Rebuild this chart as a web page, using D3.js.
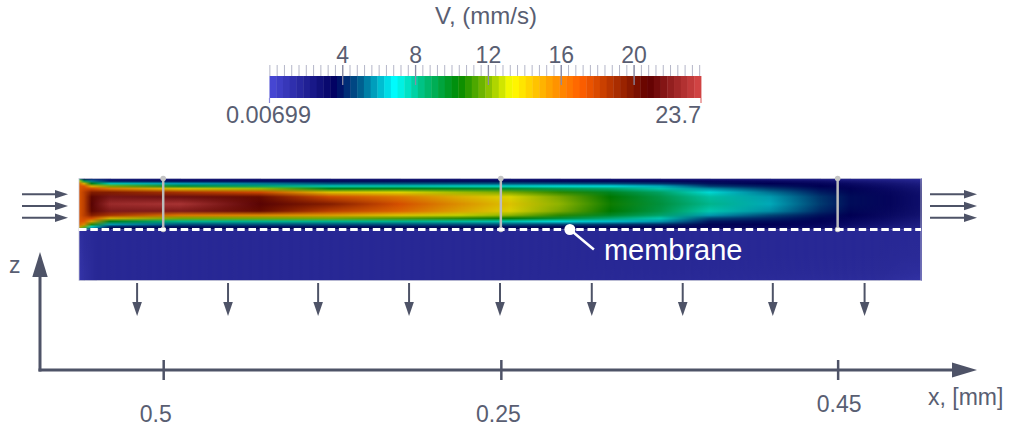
<!DOCTYPE html>
<html>
<head>
<meta charset="utf-8">
<script src="https://cdn.jsdelivr.net/npm/d3@7"></script>
<style>
body { margin: 0; background: #fff; }
text { font-family: "Liberation Sans", Arial, sans-serif; }
</style>
</head>
<body>
<svg id="chart" width="1010" height="429"></svg>
<script>

// colour map (value -> colour)
var cmapValues = [0, 3.6, 5.0, 6.9, 8.4, 10.4, 11.8, 13.3, 15.6, 17.1, 20.8, 23.7];
var cmapColors = ["#4a4ad8", "#000060", "#006090", "#00ffff", "#00c080", "#008a00",
                  "#78b800", "#ffff00", "#ff9800", "#ff6000", "#600000", "#d84848"];
var vMin = 0.00699, vMax = 23.7;
var cbMajorTicks = [4, 8, 12, 16, 20];
var cbTitle = "V, (mm/s)";

// upper channel (feed side): stations along channel (0 = inlet, 1 = outlet),
// levels across it (0 = top wall, 1 = membrane), velocity in mm/s
var upperStations = [0, 0.006, 0.015, 0.037, 0.12, 0.215, 0.298, 0.381, 0.452, 0.512,
                     0.571, 0.631, 0.69, 0.749, 0.821, 0.88, 0.916, 0.963, 1];
var upperLevels = [0, 0.05, 0.1, 0.15, 0.2, 0.27, 0.36, 0.5, 0.64, 0.72, 0.78, 0.84, 0.9, 0.95, 1];
var upperField = [
    [6, 13, 16.5, 17, 17, 17, 17, 17, 17, 17, 17, 17, 16.5, 15, 10],
    [3.5, 9, 14.5, 17, 17.5, 18, 18, 18, 18, 18, 17.5, 17, 15.5, 12, 6],
    [2.5, 5.5, 10, 14.5, 17.5, 19.5, 20.5, 21, 20.5, 19.5, 17.5, 15, 11, 7, 3.5],
    [1.8, 4, 7.5, 12, 16, 19.5, 21.8, 22.8, 22, 18.5, 14.5, 10, 6, 4, 3],
    [1.8, 3.7, 6, 9.5, 14, 18.5, 21.5, 23.2, 22, 16, 12, 8, 5, 3.8, 3],
    [1.8, 3.7, 5.5, 8.5, 12.5, 17.5, 20.3, 21, 20.3, 15.5, 12, 8, 5, 3.8, 3],
    [1.8, 3.7, 5, 7.5, 10, 14, 17.5, 19.5, 18, 15, 12, 8, 5, 3.8, 3],
    [1.8, 3.7, 5, 7.5, 10, 13.5, 16, 17.3, 16.5, 14, 11.5, 8, 5, 3.8, 3],
    [1.8, 3.7, 5, 7.3, 9.8, 12.5, 14.5, 15.3, 14.8, 13, 11, 7.8, 5, 3.8, 3],
    [1.8, 3.7, 5, 7.2, 9.5, 12, 13.5, 14, 13.6, 12.3, 10.5, 7.5, 5, 3.8, 3],
    [1.8, 3.6, 4.9, 7, 9, 11, 12, 12.3, 12, 11, 9.5, 7, 4.8, 3.7, 3],
    [1.8, 3.6, 4.8, 6.8, 8.5, 9.8, 10.4, 10.6, 10.4, 9.7, 8.4, 6.5, 4.6, 3.7, 3],
    [1.8, 3.5, 4.5, 6.2, 7.6, 8.6, 9.1, 9.3, 9.1, 8.5, 7.5, 6, 4.4, 3.6, 3],
    [1.6, 3.3, 3.9, 4.6, 5.8, 7, 7.7, 8, 7.5, 6, 4.8, 4, 3.7, 3.3, 2.8],
    [1.5, 3, 3.6, 4, 4.6, 5.4, 6, 6.2, 5.8, 4.8, 4.2, 3.8, 3.6, 3.3, 2.6],
    [1.4, 2.7, 3.3, 3.6, 3.8, 4.1, 4.5, 4.6, 4.3, 3.9, 3.7, 3.5, 3.3, 3, 2.4],
    [1.3, 2.4, 3, 3.3, 3.5, 3.7, 3.8, 3.8, 3.7, 3.6, 3.4, 3.2, 3, 2.7, 2.2],
    [1.2, 2, 2.5, 2.8, 3, 3.2, 3.3, 3.3, 3.2, 3.1, 2.9, 2.7, 2.5, 2.2, 1.8],
    [1.1, 1.6, 2, 2.3, 2.5, 2.7, 2.8, 2.8, 2.7, 2.6, 2.4, 2.2, 2, 1.8, 1.5]
];

// lower channel (permeate side)
var lowerStations = [0, 0.006, 0.02, 0.5, 0.95, 1];
var lowerLevels = [0, 0.5, 0.85, 1];
var lowerField = [
    [0.9, 0.7, 0.6, 0.6],
    [1.1, 1.0, 0.9, 0.9],
    [1.3, 1.3, 1.3, 1.3],
    [1.3, 1.3, 1.3, 1.3],
    [1.3, 1.3, 1.2, 1.1],
    [1.3, 1.2, 1.0, 0.8]
];

// probe lines and the x-axis labels written under them
var probeStations = [0.1, 0.501, 0.901];
var xTickLabels = ["0.5", "0.25", "0.45"];
var inletArrows = [0.31, 0.54, 0.77];
var permeateArrows = [0.069, 0.177, 0.284, 0.392, 0.5, 0.609, 0.717, 0.824, 0.933];
var membraneCallout = 0.583;

var svg = d3.select("#chart");
var defs = svg.append("defs");
var ink = "#4e5367", textInk = "#595e72";
var shadeK = 0.86;

var colorLin = d3.scaleLinear().domain(cmapValues).range(cmapColors)
    .interpolate(d3.interpolateRgb).clamp(true);
var nBands = 64, bandStep = (vMax - vMin) / nBands;
var bandColors = d3.range(nBands).map(i => colorLin(vMin + (i + 0.5) * bandStep));

function shade(v) {
    var c = d3.rgb(colorLin(v));
    return d3.rgb(c.r * shadeK, c.g * shadeK, c.b * shadeK).formatHex();
}

// ---------- colour bar ----------
var cb = d3.scaleLinear().domain([vMin, vMax]).range([269.5, 701]);
var cbTop = 76, cbH = 22;

svg.append("text")
    .attr("x", 486).attr("y", 23.5)
    .attr("text-anchor", "middle")
    .attr("font-size", 24).attr("fill", textInk)
    .text(cbTitle);

svg.append("g").selectAll("rect")
    .data(bandColors)
    .join("rect")
    .attr("x", (d, i) => cb(vMin + i * bandStep))
    .attr("width", cb(vMin + bandStep) - cb(vMin) + 0.4)
    .attr("y", cbTop).attr("height", cbH)
    .attr("fill", d => d);

var minorG = svg.append("g").attr("transform", "translate(0," + cbTop + ")")
    .call(d3.axisTop(cb).tickValues(d3.range(0, 23.7, 0.4)).tickSize(11).tickFormat(""));
minorG.select(".domain").remove();
minorG.selectAll(".tick line").attr("stroke", "#b4b6c8").attr("stroke-width", 1);

var majorG = svg.append("g").attr("transform", "translate(0," + (cbTop + 9) + ")")
    .call(d3.axisTop(cb).tickValues(cbMajorTicks).tickSize(20).tickPadding(2));
majorG.select(".domain").remove();
majorG.selectAll(".tick line").attr("stroke", "#8a8ca4").attr("stroke-width", 1.3);
majorG.selectAll(".tick text").attr("font-size", 23).attr("fill", textInk)
    .attr("font-family", "Liberation Sans, Arial, sans-serif");

svg.append("line").attr("x1", cb(vMin)).attr("x2", cb(vMin))
    .attr("y1", cbTop + cbH).attr("y2", cbTop + cbH + 5)
    .attr("stroke", "#8a8ae0").attr("stroke-width", 1.2);
svg.append("line").attr("x1", cb(vMax)).attr("x2", cb(vMax))
    .attr("y1", cbTop + cbH).attr("y2", cbTop + cbH + 5)
    .attr("stroke", "#e07070").attr("stroke-width", 1.2);

svg.append("text").attr("x", cb(vMin) - 1).attr("y", 123)
    .attr("text-anchor", "middle").attr("font-size", 23.5).attr("fill", textInk)
    .text(String(vMin));
svg.append("text").attr("x", cb(vMax)).attr("y", 123)
    .attr("text-anchor", "end").attr("font-size", 23.5).attr("fill", textInk)
    .text(String(vMax));

// ---------- velocity field ----------
var xCh = d3.scaleLinear().domain([0, 1]).range([79, 921]);
var zUp = d3.scaleLinear().domain([0, 1]).range([178.5, 229.5]);
var zLo = d3.scaleLinear().domain([0, 1]).range([229.5, 280.5]);

// each segment shows profile i, with profile i+1 faded in over it from left to right
function drawField(name, stations, levels, field, zScale) {
    field.forEach(function(profile, i) {
        var gr = defs.append("linearGradient").attr("id", name + i)
            .attr("x1", 0).attr("y1", 0).attr("x2", 0).attr("y2", 1);
        gr.selectAll("stop").data(profile).join("stop")
            .attr("offset", (d, j) => levels[j])
            .attr("stop-color", d => shade(d));
    });
    var g = svg.append("g");
    var y0 = zScale(0), h = zScale(1) - zScale(0);
    for (var i = 0; i < stations.length - 1; i++) {
        var x0 = xCh(stations[i]), x1 = xCh(stations[i + 1]);
        var fade = defs.append("linearGradient").attr("id", name + "f" + i)
            .attr("gradientUnits", "userSpaceOnUse")
            .attr("x1", x0).attr("y1", 0).attr("x2", x1).attr("y2", 0);
        fade.append("stop").attr("offset", 0).attr("stop-color", "#000");
        fade.append("stop").attr("offset", 1).attr("stop-color", "#fff");
        defs.append("mask").attr("id", name + "m" + i)
            .attr("maskUnits", "userSpaceOnUse")
            .attr("x", x0 - 1).attr("y", y0 - 1).attr("width", x1 - x0 + 2).attr("height", h + 2)
            .append("rect")
            .attr("x", x0 - 1).attr("y", y0 - 1).attr("width", x1 - x0 + 2).attr("height", h + 2)
            .attr("fill", "url(#" + name + "f" + i + ")");
        g.append("rect").attr("x", x0).attr("y", y0)
            .attr("width", x1 - x0 + 0.8).attr("height", h)
            .attr("fill", "url(#" + name + i + ")");
        g.append("rect").attr("x", x0).attr("y", y0)
            .attr("width", x1 - x0 + 0.8).attr("height", h)
            .attr("fill", "url(#" + name + (i + 1) + ")")
            .attr("mask", "url(#" + name + "m" + i + ")");
    }
}
drawField("lo", lowerStations, lowerLevels, lowerField, zLo);
drawField("up", upperStations, upperLevels, upperField, zUp);

svg.append("rect").attr("x", xCh(0)).attr("y", zUp(0))
    .attr("width", xCh(1) - xCh(0)).attr("height", zLo(1) - zUp(0))
    .attr("fill", "none").attr("stroke", "#c8c9d8").attr("stroke-width", 0.8);

// probe lines
var probes = svg.append("g");
probeStations.forEach(function(s) {
    probes.append("line").attr("x1", xCh(s)).attr("x2", xCh(s))
        .attr("y1", zUp(0)).attr("y2", zUp(1))
        .attr("stroke", "#bcbcbc").attr("stroke-width", 2.5);
    [0, 1].forEach(function(z) {
        probes.append("circle").attr("cx", xCh(s)).attr("cy", zUp(z)).attr("r", 2.8)
            .attr("fill", "#c4c4c4");
    });
});

// membrane
svg.append("line").attr("x1", xCh(0)).attr("x2", xCh(1))
    .attr("y1", zUp(1)).attr("y2", zUp(1))
    .attr("stroke", "#fff").attr("stroke-width", 3).attr("stroke-dasharray", "7.5,3.8");
var mx = xCh(membraneCallout), my = zUp(1);
svg.append("line").attr("x1", mx).attr("y1", my).attr("x2", mx + 24).attr("y2", my + 20)
    .attr("stroke", "#fff").attr("stroke-width", 2.5);
svg.append("circle").attr("cx", mx).attr("cy", my).attr("r", 5.5).attr("fill", "#fff");
svg.append("text").attr("x", mx + 34).attr("y", 260)
    .attr("font-size", 29).attr("fill", "#fff").text("membrane");

// ---------- arrows ----------
function arrowRight(g, x1, x2, y) {
    g.append("line").attr("x1", x1).attr("x2", x2 - 10).attr("y1", y).attr("y2", y)
        .attr("stroke", ink).attr("stroke-width", 2);
    g.append("path").attr("d", "M" + x2 + "," + y + "L" + (x2 - 13) + "," + (y - 4.3)
        + "L" + (x2 - 13) + "," + (y + 4.3) + "Z").attr("fill", ink);
}
function arrowDown(g, x, y1, y2) {
    g.append("line").attr("x1", x).attr("x2", x).attr("y1", y1).attr("y2", y2 - 10)
        .attr("stroke", ink).attr("stroke-width", 2);
    g.append("path").attr("d", "M" + x + "," + y2 + "L" + (x - 4.8) + "," + (y2 - 14)
        + "L" + (x + 4.8) + "," + (y2 - 14) + "Z").attr("fill", ink);
}
var arrows = svg.append("g");
inletArrows.forEach(function(z) {
    arrowRight(arrows, 22, 68, zUp(z));
    arrowRight(arrows, 930, 977, zUp(z));
});
permeateArrows.forEach(function(s) {
    arrowDown(arrows, xCh(s), 283, 316);
});

// ---------- axes ----------
var axY = 370, axX = 40;
svg.append("line").attr("x1", axX).attr("x2", axX).attr("y1", axY + 1.5).attr("y2", 272)
    .attr("stroke", ink).attr("stroke-width", 3);
svg.append("path").attr("d", "M" + axX + ",252L" + (axX - 7.7) + ",277L" + (axX + 7.7) + ",277Z")
    .attr("fill", ink);
svg.append("line").attr("x1", axX - 1.5).attr("x2", 957).attr("y1", axY).attr("y2", axY)
    .attr("stroke", ink).attr("stroke-width", 3);
svg.append("path").attr("d", "M977," + axY + "L952," + (axY - 7.5) + "L952," + (axY + 7.5) + "Z")
    .attr("fill", ink);

var labelDx = [-8, -3, 1], labelDy = [0, 0, -10];
var xAxisG = svg.append("g").attr("transform", "translate(0," + (axY - 10) + ")")
    .call(d3.axisBottom(xCh).tickValues(probeStations).tickSize(20).tickPadding(26)
        .tickFormat((d, i) => xTickLabels[i]));
xAxisG.select(".domain").remove();
xAxisG.selectAll(".tick line").attr("stroke", ink).attr("stroke-width", 2.5);
xAxisG.selectAll(".tick text")
    .attr("font-size", 23).attr("fill", textInk)
    .attr("font-family", "Liberation Sans, Arial, sans-serif")
    .attr("dx", (d, i) => labelDx[i])
    .attr("transform", (d, i) => "translate(0," + labelDy[i] + ")");

svg.append("text").attr("x", 928).attr("y", 405).attr("font-size", 23)
    .attr("fill", textInk).text("x, [mm]");
svg.append("text").attr("x", 9).attr("y", 273).attr("font-size", 23)
    .attr("fill", textInk).text("z");

</script>
</body>
</html>
